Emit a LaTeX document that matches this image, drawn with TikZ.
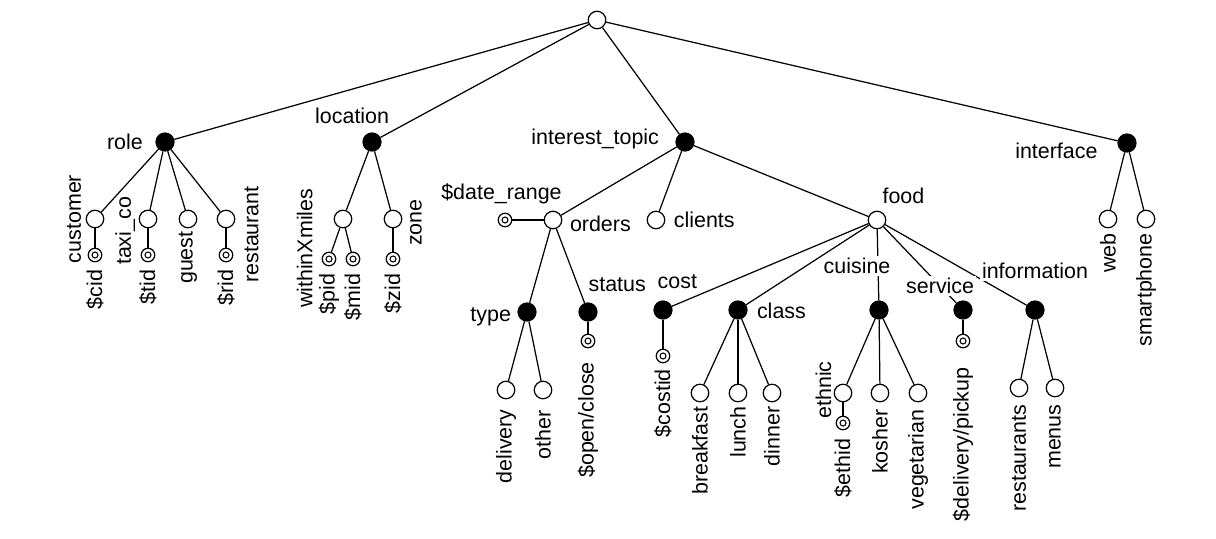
\documentclass[tikz,border=0pt]{standalone}
\usepackage{fontspec}
\setmainfont{Liberation Sans}
\usetikzlibrary{positioning}
\tikzset{
  opennode/.style={circle,draw,fill=white,minimum size=0.35cm,inner sep=0pt},
  fillnode/.style={circle,draw,fill=black,minimum size=0.36cm,inner sep=0pt},
  varnode/.style={circle,draw,fill=white,minimum size=0.27cm,inner sep=0pt,
    path picture={\draw[line width=0.6pt] (path picture bounding box.center) circle (0.06cm);}},
  lbl/.style={fill=white,inner sep=1pt,font=\fontsize{12.2}{14}\selectfont},
  vlbl/.style={lbl,fill=none,rotate=90},
}
\begin{document}
\begin{tikzpicture}[x=0.02cm,y=-0.02cm,line width=0.7pt]
        \useasboundingbox (0,0) rectangle (1216,538);
        %% top levels
        \node[opennode] (root) at (597,20) {};
        \node[fillnode] (role) at (165,142) {};
        \node[fillnode] (loc) at (372,142) {};
        \node[fillnode] (topic) at (685,142) {};
        \node[fillnode] (iface) at (1127,143) {};
        %% role
        \node[opennode] (customer) at (95,219) {};
        \node[opennode] (taxi) at (148,219) {};
        \node[opennode] (guest) at (188,219) {};
        \node[opennode] (rest) at (226,219) {};
        \node[varnode] (cid) at (95,255) {};
        \node[varnode] (tid) at (148,255) {};
        \node[varnode] (rid) at (226,255) {};
        %% location
        \node[opennode] (within) at (343,219) {};
        \node[opennode] (zone) at (393,219) {};
        \node[varnode] (pid) at (329,259) {};
        \node[varnode] (mid) at (353,259) {};
        \node[varnode] (zid) at (393,259) {};
        %% interest_topic
        \node[opennode] (orders) at (553,220) {};
        \node[varnode] (daterange) at (505,220) {};
        \node[opennode] (clients) at (656,220) {};
        \node[opennode] (food) at (877,220) {};
        \node[fillnode] (type) at (527,312) {};
        \node[fillnode] (status) at (588,312) {};
        \node[opennode] (delivery) at (506,390) {};
        \node[opennode] (other) at (543,390) {};
        \node[varnode] (openclose) at (588,341) {};
        %% food
        \node[fillnode] (cost) at (663,310) {};
        \node[fillnode] (class) at (738,310) {};
        \node[fillnode] (cuisine) at (879,310) {};
        \node[fillnode] (service) at (963,310) {};
        \node[fillnode] (info) at (1035,310) {};
        \node[varnode] (costid) at (663,356) {};
        \node[opennode] (breakfast) at (700,393) {};
        \node[opennode] (lunch) at (738,393) {};
        \node[opennode] (dinner) at (772,393) {};
        \node[opennode] (ethnic) at (843,393) {};
        \node[opennode] (kosher) at (880,393) {};
        \node[opennode] (veg) at (918,393) {};
        \node[varnode] (ethid) at (843,423) {};
        \node[varnode] (pickup) at (963,341) {};
        \node[opennode] (restaurants) at (1019,388) {};
        \node[opennode] (menus) at (1055,388) {};
        %% interface
        \node[opennode] (web) at (1108,219) {};
        \node[opennode] (phone) at (1146,219) {};
        %% edges
        \foreach \a/\b in {root/role,root/loc,root/topic,root/iface,
            role/customer,role/taxi,role/guest,role/rest,
            customer/cid,taxi/tid,rest/rid,
            loc/within,loc/zone,within/pid,within/mid,zone/zid,
            topic/orders,topic/clients,topic/food,orders/daterange,
            orders/type,orders/status,type/delivery,type/other,status/openclose,
            food/cost,food/class,food/cuisine,food/service,food/info,
            cost/costid,class/breakfast,class/lunch,class/dinner,
            cuisine/ethnic,cuisine/kosher,cuisine/veg,ethnic/ethid,
            service/pickup,info/restaurants,info/menus,
            iface/web,iface/phone}
            \draw (\a) -- (\b);
        %% labels
        \node[lbl,left=5.8pt of role] (role-t) {role};
        \node[lbl,above=3.5pt of loc,xshift=-11.3pt] (loc-t) {location};
        \node[lbl,left=8pt of topic,yshift=1.5pt] (topic-t) {interest\_topic};
        \node[lbl,left=10pt of iface,yshift=-4.3pt] (iface-t) {interface};
        \node[lbl,above=3.4pt of daterange,xshift=-2pt] (daterange-t) {\$date\_range};
        \node[lbl,right=3pt of orders,yshift=-2.3pt] (orders-t) {orders};
        \node[lbl,right=3.5pt of clients] (clients-t) {clients};
        \node[lbl,anchor=south west] (food-t) at ([xshift=1.8pt,yshift=2.7pt]food.north) {food};
        \node[lbl,left=2.3pt of type,yshift=-2.5pt] (type-t) {type};
        \node[lbl,anchor=south west] (status-t) at ([xshift=-1pt,yshift=4.6pt]status.north) {status};
        \node[lbl,anchor=south west] (cost-t) at ([xshift=-4.4pt,yshift=5.2pt]cost.north) {cost};
        \node[lbl,right=4pt of class,yshift=-0.7pt] (class-t) {class};
        \node[lbl,anchor=south] (cuisine-t) at ([xshift=-12.5pt,yshift=13.7pt]cuisine.north) {cuisine};
        \node[lbl,anchor=south] (service-t) at ([xshift=-13pt,yshift=2.4pt]service.north) {service};
        \node[lbl,above=10.9pt of info] (info-t) {information};
        %% vertical labels
        \node[vlbl,anchor=south] (customer-t) at ([xshift=-1.2pt]customer.west) {customer};
        \node[vlbl,anchor=south] (taxi-t) at ([xshift=-0.7pt,yshift=-6.8pt]taxi.west) {taxi\_co};
        \node[vlbl,anchor=east] (guest-t) at ([yshift=-0.4pt]guest.south) {guest};
        \node[vlbl,anchor=north] (rest-t) at ([xshift=3.9pt,yshift=-8.8pt]rest.east) {restaurant};
        \node[vlbl,anchor=east] (cid-t) at ([yshift=-3pt]cid.south) {\$cid};
        \node[vlbl,anchor=east] (tid-t) at ([yshift=-3pt]tid.south) {\$tid};
        \node[vlbl,anchor=east] (rid-t) at ([yshift=-3pt]rid.south) {\$rid};
        \node[vlbl,anchor=south] (within-t) at ([xshift=-10.6pt,yshift=-16.7pt]within.west) {withinXmiles};
        \node[vlbl,anchor=north] (zone-t) at ([xshift=3pt,yshift=-2pt]zone.east) {zone};
        \node[vlbl,anchor=east] (pid-t) at ([yshift=-3pt]pid.south) {\$pid};
        \node[vlbl,anchor=east] (mid-t) at ([yshift=-3pt]mid.south) {\$mid};
        \node[vlbl,anchor=east] (zid-t) at ([yshift=-3pt]zid.south) {\$zid};
        \node[vlbl,anchor=east] (delivery-t) at ([yshift=-4.4pt]delivery.south) {delivery};
        \node[vlbl,anchor=east] (other-t) at ([yshift=-4.8pt]other.south) {other};
        \node[vlbl,anchor=east] (openclose-t) at ([yshift=-6.5pt]openclose.south) {\$open/close};
        \node[vlbl,anchor=east] (costid-t) at ([yshift=-2pt]costid.south) {\$costid};
        \node[vlbl,anchor=east] (breakfast-t) at ([yshift=-1pt]breakfast.south) {breakfast};
        \node[vlbl,anchor=east] (lunch-t) at ([yshift=-1pt]lunch.south) {lunch};
        \node[vlbl,anchor=east] (dinner-t) at ([yshift=-1pt]dinner.south) {dinner};
        \node[vlbl,anchor=south] (ethnic-t) at ([yshift=1.7pt]ethnic.west) {ethnic};
        \node[vlbl,anchor=east] (ethid-t) at ([yshift=-3.5pt]ethid.south) {\$ethid};
        \node[vlbl,anchor=east] (kosher-t) at ([yshift=-2.7pt]kosher.south) {kosher};
        \node[vlbl,anchor=east] (veg-t) at ([yshift=-2.7pt]veg.south) {vegetarian};
        \node[vlbl,anchor=east] (pickup-t) at ([yshift=-9.5pt]pickup.south) {\$delivery/pickup};
        \node[vlbl,anchor=east] (restaurants-t) at ([yshift=-2.7pt]restaurants.south) {restaurants};
        \node[vlbl,anchor=east] (menus-t) at ([yshift=-2.7pt]menus.south) {menus};
        \node[vlbl,anchor=east] (web-t) at ([yshift=-1.5pt]web.south) {web};
        \node[vlbl,anchor=east] (phone-t) at ([yshift=-1.5pt]phone.south) {smartphone};
    \end{tikzpicture}
\end{document}
